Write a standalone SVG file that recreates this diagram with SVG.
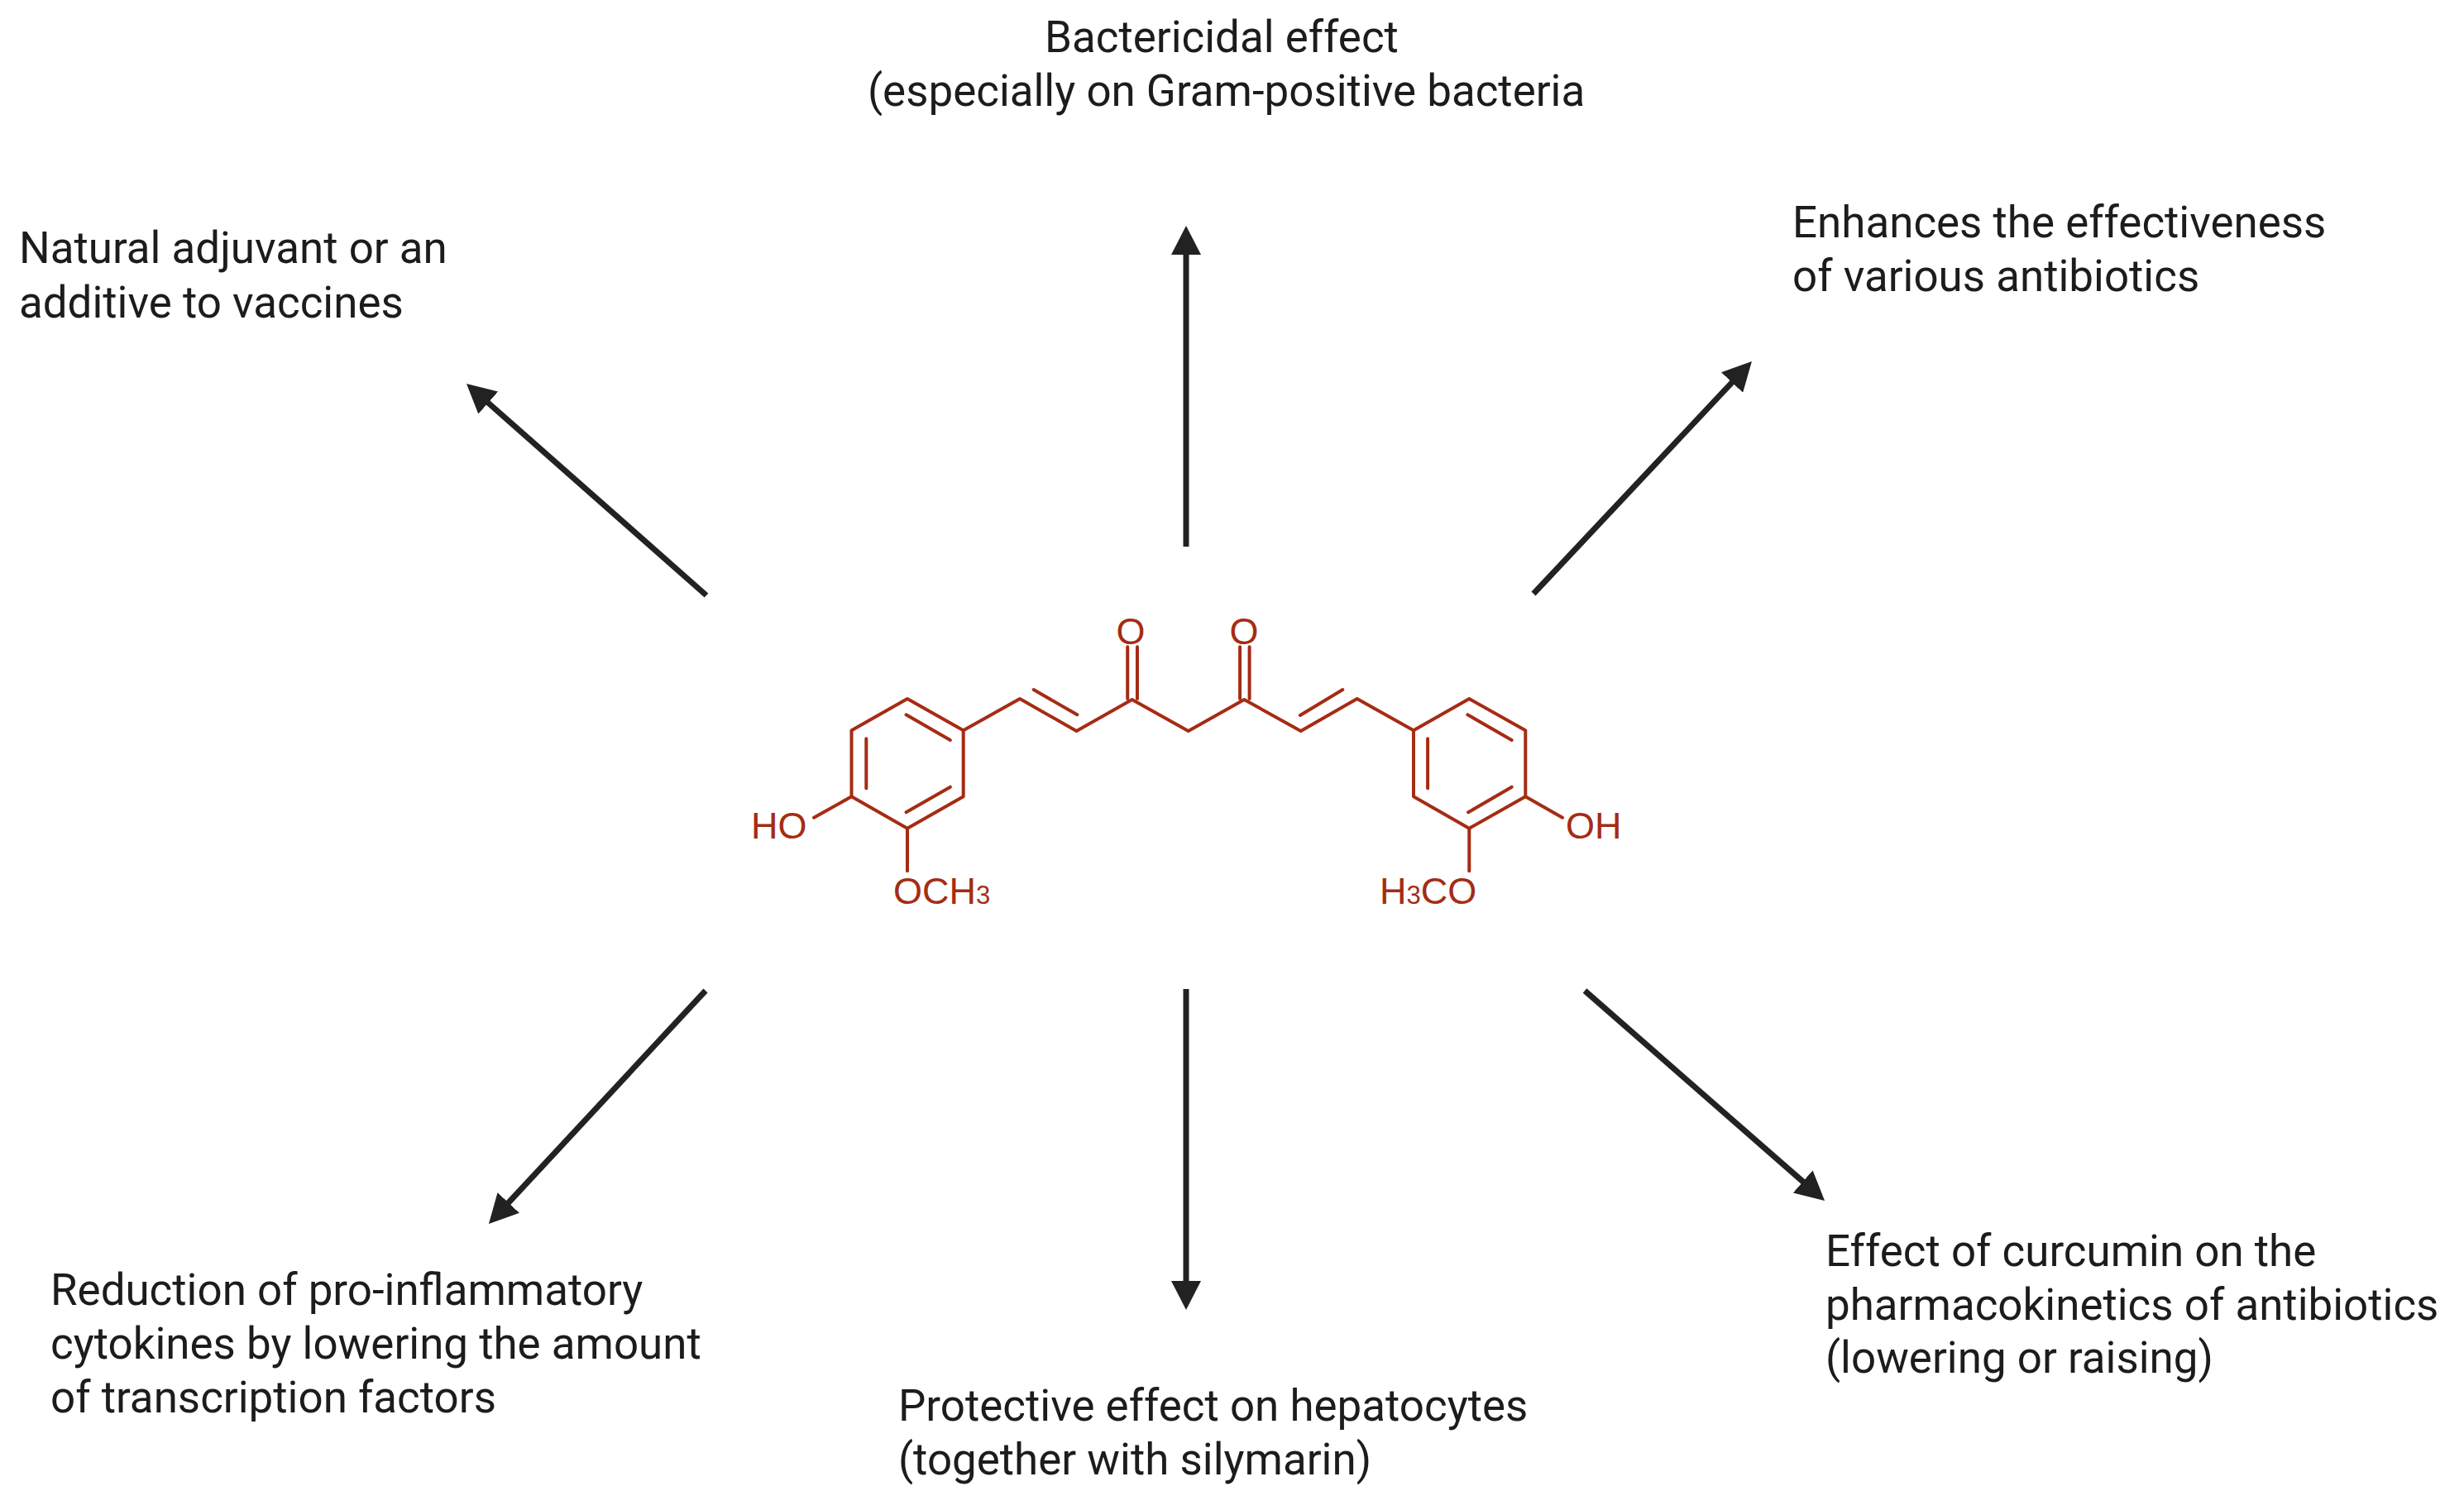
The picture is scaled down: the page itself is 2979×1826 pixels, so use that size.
<svg xmlns="http://www.w3.org/2000/svg" width="2979" height="1826" viewBox="0 0 2979 1826">
<style>
.t{font-family:Roboto,"Liberation Sans",sans-serif;font-size:52.9px;fill:#1c1c1c}
.c{font-family:"Liberation Sans",Arial,sans-serif;font-size:45px;fill:#a52c14}
.s{font-size:31px}
.b{fill:none;stroke:#a52c14;stroke-width:4;stroke-linejoin:round;stroke-linecap:round}
.a{stroke:#222;stroke-width:7;fill:none;marker-end:url(#h)}
</style>
<defs><marker id="h" markerUnits="userSpaceOnUse" markerWidth="36" markerHeight="36" refX="7" refY="18" orient="auto"><path d="M0 0L35 18L0 36Z" fill="#222"/></marker></defs>
<rect width="2979" height="1826" fill="#fff"/>
<g id="connectors">
<line class="a" x1="1434" y1="661" x2="1434" y2="301"/>
<line class="a" x1="854" y1="720" x2="585" y2="482.5"/>
<line class="a" x1="1854" y1="718" x2="2098.8" y2="457.4"/>
<line class="a" x1="853" y1="1198" x2="610" y2="1459.5"/>
<line class="a" x1="1434" y1="1196" x2="1434" y2="1556"/>
<line class="a" x1="1916" y1="1198" x2="2185" y2="1433.5"/>
</g>
<g id="curcumin">
<path class="b" d="M1097 845L1164.7 883.3V963.3L1097 1001.7L1029.5 963.3V883.3Z"/>
<path class="b" d="M1095.5 864.3L1148.9 895M1047.3 893.3V953.3M1095.5 982.3L1148.9 951.7"/>
<path class="b" d="M1164.7 883.3L1233 845L1301.5 884L1368.7 846L1436.7 884L1504.3 846L1572.7 884L1640.7 845L1709 883.3"/>
<path class="b" d="M1249.7 834L1302.3 864.3M1571.9 865L1623.3 834M1363.2 782.3V845M1375 782.3V845M1499.1 782.3V845M1510.6 782.3V845"/>
<path class="b" d="M1776.3 845L1844.3 883.3V963.3L1776.3 1001.7L1709 963.3V883.3Z"/>
<path class="b" d="M1774.4 864.3L1827.7 895M1726.1 893.3V953.3M1775.1 982.3L1827.7 951.7"/>
<path class="b" d="M1029.5 963.3L984 988.7M1844.3 963.3L1889 988.7M1097 1001.7V1053.3M1776.3 1001.7V1053.3"/>
<text class="c" x="1367" y="779" text-anchor="middle">O</text>
<text class="c" x="1504" y="779" text-anchor="middle">O</text>
<text class="c" x="908" y="1014">HO</text>
<text class="c" x="1893" y="1014">OH</text>
<text class="c" x="1080" y="1093">OCH<tspan class="s">3</tspan></text>
<text class="c" x="1668" y="1093">H<tspan class="s">3</tspan>CO</text>
</g>
<g id="n-bactericidal"><text class="t" x="1263" y="63">Bactericidal effect</text><text class="t" x="1049" y="128">(especially on Gram-positive bacteria</text></g>
<g id="n-adjuvant"><text class="t" x="23" y="318">Natural adjuvant or an</text><text class="t" x="23" y="384">additive to vaccines</text></g>
<g id="n-antibiotics"><text class="t" x="2167" y="287">Enhances the effectiveness</text><text class="t" x="2167" y="352">of various antibiotics</text></g>
<g id="n-cytokines"><text class="t" x="61" y="1578">Reduction of pro-inflammatory</text><text class="t" x="61" y="1643">cytokines by lowering the amount</text><text class="t" x="61" y="1708">of transcription factors</text></g>
<g id="n-hepatocytes"><text class="t" x="1086" y="1718">Protective effect on hepatocytes</text><text class="t" x="1086" y="1783">(together with silymarin)</text></g>
<g id="n-pharmacokinetics"><text class="t" x="2207" y="1531">Effect of curcumin on the</text><text class="t" x="2207" y="1596">pharmacokinetics of antibiotics</text><text class="t" x="2207" y="1660">(lowering or raising)</text></g>
</svg>
